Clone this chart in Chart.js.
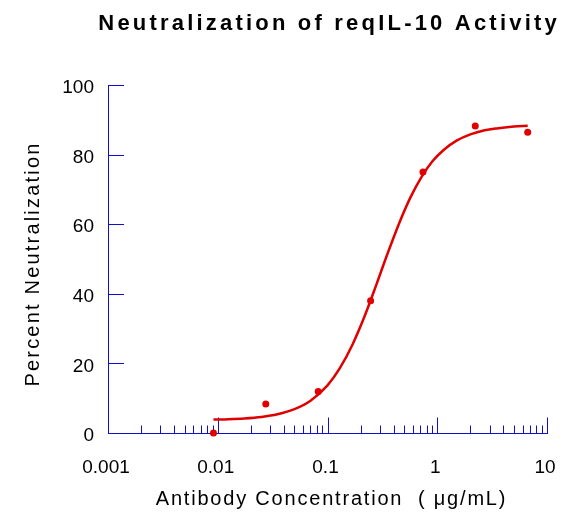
<!DOCTYPE html>
<html>
<head>
<meta charset="utf-8">
<script src="https://cdn.jsdelivr.net/npm/chart.js@4.4.1/dist/chart.umd.min.js"></script>
<style>
html,body{margin:0;padding:0;background:#ffffff;}
#wrap{width:568px;height:518px;}
</style>
</head>
<body>
<div id="wrap"><canvas id="c" width="568" height="518"></canvas></div>
<script>
// ---- text ----
const chartTitle = 'Neutralization of reqIL-10 Activity';
const xAxisTitle = 'Antibody Concentration  ( \u03bcg/mL)';
const yAxisTitle = 'Percent Neutralization';

// ---- measured points ----
const concentrations = [0.00914, 0.0274, 0.0823, 0.247, 0.741, 2.22, 6.67];
const neutralization = [0, 8.3, 11.9, 38.0, 75.0, 88.2, 86.4];

// ---- fitted curve ----
const fitConcentrations = [0.00914, 0.0125, 0.0175, 0.025, 0.035, 0.05, 0.07, 0.1, 0.13, 0.17, 0.22, 0.28,
                           0.35, 0.45, 0.57, 0.72, 0.9, 1.15, 1.5, 2.0, 2.7, 3.6, 5.0, 6.67];
const fitNeutralization = [3.85, 3.97, 4.19, 4.62, 5.38, 6.84, 9.27, 13.7, 18.7, 25.6, 33.9, 42.8,
                           51.3, 60.3, 67.7, 73.6, 78.0, 81.4, 84.0, 85.8, 87.0, 87.6, 88.1, 88.3];

// ---- ticks ----
const xDecades = [0.001, 0.01, 0.1, 1, 10];
const xDecadeLabels = ['0.001', '0.01', '0.1', '1', '10'];
const xMinorMultiples = [2, 3, 4, 5, 6, 7, 8, 9];
const yTicks = [0, 20, 40, 60, 80, 100];

const FONT = "'Liberation Sans', Arial, Helvetica, sans-serif";
const RED = '#e00000';
const AXIS = '#1010cc';

const xTickValues = [];
xDecades.forEach((d, i) => {
  xTickValues.push(d);
  if (i < xDecades.length - 1) xMinorMultiples.forEach(m => xTickValues.push(+(d * m).toPrecision(6)));
});

function decadeIndex(v) {
  return xDecades.findIndex(d => Math.abs(d - v) / d < 1e-6);
}

const spacingPlugin = {
  id: 'letterSpacingPatch',
  beforeDraw(chart) {
    const ctx = chart.ctx;
    const tb = chart.titleBlock;
    if (tb && !tb._patched) {
      const orig = tb.draw.bind(tb);
      tb.draw = function (area) {
        ctx.save();
        ctx.letterSpacing = '3.2px';
        // centre the title over the plot area rather than the whole title box
        const plotCentre = (chart.chartArea.left + chart.chartArea.right) / 2;
        const boxCentre = (tb.left + tb.right) / 2;
        ctx.translate(plotCentre - boxCentre + 1.6, 0);
        orig(area);
        ctx.restore();
      };
      tb._patched = true;
    }
    const shifts = { x: [4, 0], y: [0, 5] };
    ['x', 'y'].forEach(id => {
      const s = chart.scales[id];
      if (s && !s._patched) {
        const orig = s.drawTitle.bind(s);
        s.drawTitle = function () {
          ctx.save();
          ctx.letterSpacing = id === 'x' ? '1.8px' : '2.2px';
          ctx.translate(shifts[id][0], shifts[id][1]);
          orig();
          ctx.restore();
        };
        s._patched = true;
      }
    });
  }
};

const innerTicks = {
  id: 'innerTicks',
  beforeDatasetsDraw(chart) {
    const { ctx, chartArea: a } = chart;
    const xs = chart.scales.x, ys = chart.scales.y;
    ctx.save();
    ctx.strokeStyle = AXIS;
    ctx.lineWidth = 1;
    ctx.beginPath();
    yTicks.forEach(v => {
      const p = Math.round(ys.getPixelForValue(v)) + 0.5;
      ctx.moveTo(a.left, p);
      ctx.lineTo(a.left + 16, p);
    });
    const base = Math.round(a.bottom) + 0.5;
    xTickValues.forEach(v => {
      const p = Math.round(xs.getPixelForValue(v)) + 0.5;
      const len = decadeIndex(v) >= 0 ? 16 : 8;
      ctx.moveTo(p, base);
      ctx.lineTo(p, base - len);
    });
    ctx.stroke();
    ctx.restore();
  }
};

new Chart(document.getElementById('c'), {
  type: 'scatter',
  data: {
    datasets: [
      {
        type: 'line',
        label: 'Fit',
        data: fitConcentrations.map((x, i) => ({ x: x, y: fitNeutralization[i] })),
        borderColor: RED,
        backgroundColor: RED,
        borderWidth: 2.5,
        pointRadius: 0,
        cubicInterpolationMode: 'monotone',
        fill: false,
        clip: false,
        order: 2
      },
      {
        type: 'scatter',
        label: 'Data',
        data: concentrations.map((x, i) => ({ x: x, y: neutralization[i] })),
        backgroundColor: RED,
        borderColor: RED,
        borderWidth: 0,
        pointRadius: 3.5,
        clip: false,
        order: 1
      }
    ]
  },
  options: {
    responsive: false,
    animation: false,
    devicePixelRatio: 1,
    layout: { padding: { left: 0, right: 21, top: 0, bottom: 0 } },
    plugins: {
      legend: { display: false },
      tooltip: { enabled: false },
      title: {
        display: true,
        text: chartTitle,
        fullSize: true,
        color: '#000000',
        font: { family: FONT, size: 22, weight: 'bold', lineHeight: 1.2 },
        padding: { top: 10.5, bottom: 48.1 }
      }
    },
    scales: {
      x: {
        type: 'logarithmic',
        position: 'bottom',
        min: 0.001,
        max: 10,
        afterBuildTicks: s => { s.ticks = xTickValues.map(v => ({ value: v })); },
        afterFit: s => { s.height = 85; s.paddingLeft = 0; s.paddingRight = 0; },
        grid: { display: false, drawOnChartArea: false, drawTicks: false },
        border: { display: true, color: AXIS, width: 1 },
        ticks: {
          autoSkip: false,
          maxRotation: 0,
          minRotation: 0,
          padding: 23.5,
          labelOffset: -2,
          color: '#000000',
          font: { family: FONT, size: 19 },
          callback: (v) => { const i = decadeIndex(v); return i >= 0 ? xDecadeLabels[i] : ''; }
        },
        title: {
          display: true,
          text: xAxisTitle,
          color: '#000000',
          font: { family: FONT, size: 20, lineHeight: 1.2 },
          padding: { top: 0, bottom: 6.3 }
        }
      },
      y: {
        type: 'linear',
        position: 'left',
        min: 0,
        max: 100,
        afterFit: s => { s.width = 108; s.paddingTop = 0; s.paddingBottom = 0; },
        grid: { display: false, drawOnChartArea: false, drawTicks: false },
        border: { display: true, color: AXIS, width: 1 },
        ticks: {
          stepSize: 20,
          padding: 14,
          labelOffset: 3,
          color: '#000000',
          font: { family: FONT, size: 19 }
        },
        title: {
          display: true,
          text: yAxisTitle,
          color: '#000000',
          font: { family: FONT, size: 20, lineHeight: 1.2 },
          padding: { top: 21.3, bottom: 0 }
        }
      }
    }
  },
  plugins: [spacingPlugin, innerTicks]
});
</script>
</body>
</html>
